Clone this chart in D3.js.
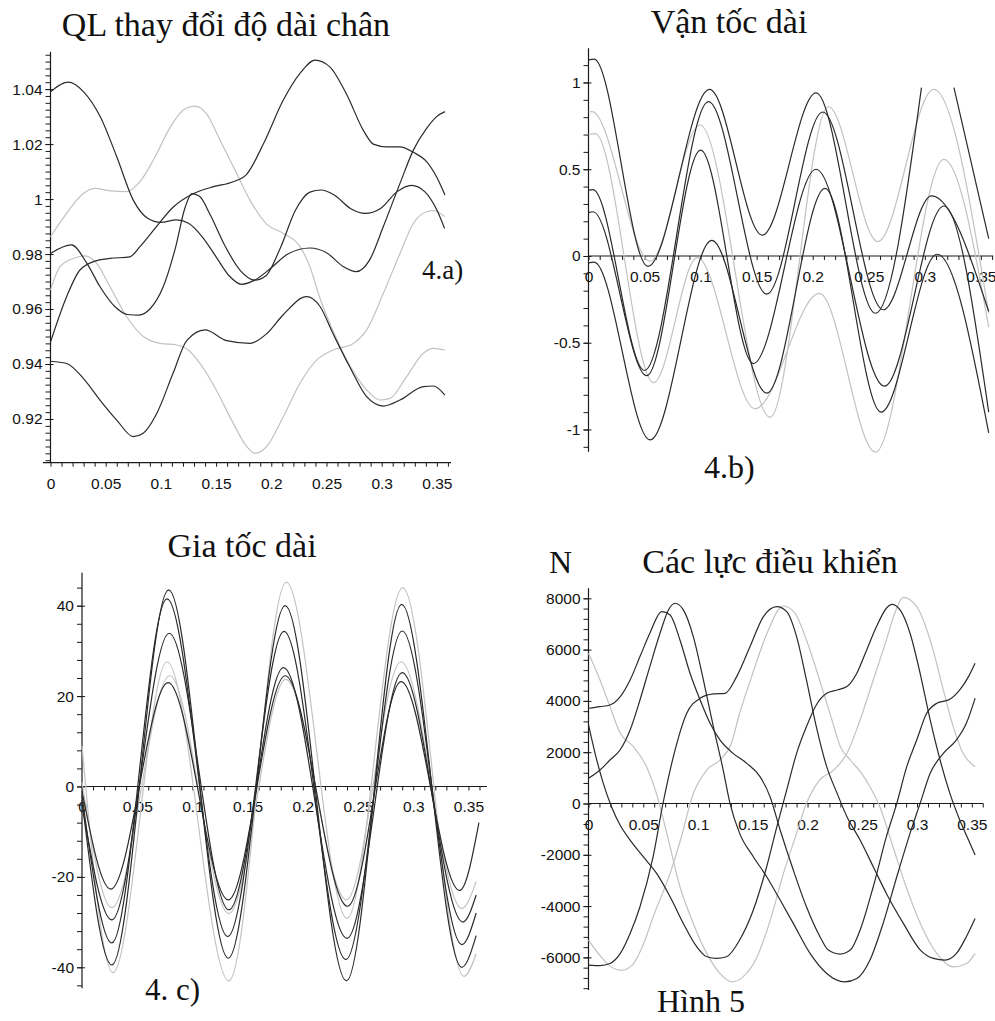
<!DOCTYPE html>
<html><head><meta charset="utf-8">
<script src="https://cdn.jsdelivr.net/npm/d3@7"></script>
<style>
html,body{margin:0;padding:0;background:#fff;}
svg{display:block;}
.ttl{font-family:"Liberation Serif","Times New Roman",serif;fill:#111;}
.tick text{font-family:"Liberation Sans",Arial,sans-serif;font-size:15.5px;fill:#111;}
</style></head><body>
<svg id="chart" width="995" height="1021"></svg>
<script>
// ---------------- DATA ----------------
const panelTitles = ["QL thay đổi độ dài chân", "Vận tốc dài", "Gia tốc dài", "Các lực điều khiển"];
const panelTags = ["4.a)", "4.b)", "4. c)", "Hình 5"];
const forceUnit = "N";
const xTickLabels = ["0","0.05","0.1","0.15","0.2","0.25","0.3","0.35"];
const lengthYLabels = ["0.92","0.94","0.96","0.98","1","1.02","1.04"];
const velocityYLabels = ["-1","-0.5","0","0.5","1"];
const accelYLabels = ["-40","-20","0","20","40"];
const forceYLabels = ["-6000","-4000","-2000","0","2000","4000","6000","8000"];

// 4.a) leg length change  [t, value]
const lengthSeriesDark = [
 [[0,1.039],[0.016,1.0425],[0.030,1.039],[0.045,1.030],[0.060,1.0154],[0.075,0.9996],[0.088,0.9930],[0.100,0.9915],[0.114,0.9924],[0.125,0.9912],[0.138,0.9860],[0.150,0.9790],[0.162,0.9720],[0.173,0.9690],[0.185,0.9705],[0.200,0.9750],[0.215,0.9800],[0.235,0.9822],[0.250,0.9805],[0.265,0.9755],[0.277,0.9736],[0.289,0.9778],[0.3015,0.990],[0.3166,1.0057],[0.3287,1.0178],[0.3407,1.0257],[0.3498,1.0300],[0.3573,1.0318]],
 [[0,0.9802],[0.019,0.9833],[0.033,0.9766],[0.045,0.9680],[0.058,0.9610],[0.070,0.9580],[0.080,0.9578],[0.090,0.9600],[0.102,0.9680],[0.113,0.9820],[0.122,0.9970],[0.128,1.0020],[0.135,1.0010],[0.145,0.9940],[0.158,0.9830],[0.172,0.9740],[0.185,0.9705],[0.195,0.9720],[0.208,0.9820],[0.222,0.9960],[0.235,1.0025],[0.245,1.0033],[0.257,1.0015],[0.272,0.9965],[0.285,0.9948],[0.299,0.9966],[0.314,1.0027],[0.327,1.0050],[0.339,1.0027],[0.350,0.9960],[0.357,0.9893]],
 [[0,0.948],[0.0146,0.9645],[0.0267,0.9742],[0.0418,0.9776],[0.0539,0.9784],[0.072,0.9790],[0.081,0.9827],[0.096,0.9900],[0.111,0.9970],[0.1296,1.0020],[0.1475,1.0045],[0.1656,1.0063],[0.1777,1.0090],[0.1928,1.0200],[0.2109,1.0360],[0.226,1.0457],[0.2396,1.0505],[0.2532,1.0480],[0.2683,1.0380],[0.2834,1.0250],[0.2924,1.0200],[0.3045,1.0190],[0.3166,1.0190],[0.3287,1.0170],[0.3407,1.0136],[0.3498,1.0080],[0.3573,1.0015]],
 [[0,0.9410],[0.0146,0.9402],[0.0297,0.9348],[0.0448,0.9269],[0.060,0.9196],[0.075,0.9136],[0.084,0.9148],[0.096,0.9218],[0.111,0.9366],[0.1234,0.9485],[0.140,0.9524],[0.1596,0.9485],[0.1807,0.9475],[0.1958,0.9510],[0.211,0.9580],[0.232,0.9645],[0.244,0.9610],[0.256,0.9510],[0.271,0.9390],[0.2864,0.9281],[0.3015,0.9247],[0.3166,0.9269],[0.3377,0.9318],[0.3468,0.9320],[0.3573,0.9287]]
];
const lengthSeriesLight = [
 [[0,0.9863],[0.0146,0.9948],[0.0297,1.0020],[0.0403,1.0039],[0.0539,1.0030],[0.069,1.0027],[0.081,1.0063],[0.0932,1.0142],[0.1083,1.0260],[0.1203,1.0324],[0.1309,1.0338],[0.1414,1.0310],[0.1535,1.0215],[0.1656,1.0118],[0.1807,0.9996],[0.1958,0.9909],[0.211,0.9875],[0.226,0.9827],[0.235,0.9754],[0.244,0.9640],[0.256,0.9520],[0.271,0.9395],[0.2864,0.9306],[0.2984,0.9269],[0.3075,0.9275],[0.3226,0.9354],[0.3377,0.9439],[0.3468,0.9457],[0.3573,0.9451]],
 [[0,0.9669],[0.0086,0.9754],[0.0207,0.9784],[0.0312,0.9793],[0.0418,0.9766],[0.0539,0.9681],[0.069,0.9572],[0.0841,0.9500],[0.0992,0.9475],[0.1143,0.9469],[0.1249,0.9451],[0.1354,0.9402],[0.1505,0.9303],[0.1656,0.9184],[0.1777,0.9100],[0.1852,0.9075],[0.1958,0.9100],[0.211,0.9209],[0.226,0.9330],[0.2411,0.9414],[0.2562,0.9451],[0.2743,0.9475],[0.2864,0.9524],[0.3015,0.9657],[0.3166,0.9802],[0.3287,0.9912],[0.3407,0.9954],[0.3468,0.9958],[0.3573,0.9936]]
];

// 4.b) leg velocity (null = gap in the trace)
const velocitySeriesDark = [
 [[0,1.13],[0.005,1.135],[0.053,-0.06],[0.108,0.96],[0.155,0.12],[0.203,0.94],[0.256,-0.33],[0.297,0.97],null,[0.326,0.97],[0.357,0.10]],
 [[0,0.38],[0.004,0.383],[0.050,-0.66],[0.107,0.89],[0.159,-0.22],[0.209,0.83],[0.263,-0.31],[0.306,0.346],[0.357,-0.32]],
 [[0,0.25],[0.004,0.255],[0.052,-0.69],[0.100,0.61],[0.147,-0.62],[0.203,0.50],[0.264,-0.75],[0.317,0.288],[0.357,-0.90]],
 [[0,-0.04],[0.005,-0.035],[0.055,-1.06],[0.110,0.09],[0.159,-0.79],[0.211,0.39],[0.261,-0.90],[0.311,0.01],[0.357,-1.02]]
];
const velocitySeriesLight = [
 [[0,0.83],[0.003,0.832],[0.055,-0.03],[0.0995,0.755],[0.162,-0.93],[0.214,0.86],[0.258,0.083],[0.308,0.96],[0.357,-0.33]],
 [[0,0.70],[0.006,0.705],[0.058,-0.73],[0.097,-0.01],[0.1485,-0.88],[0.206,-0.215],[0.256,-1.13],[0.317,0.557],[0.357,-0.41]]
];

// 4. c) leg acceleration
const accelSeriesDark = [
 [[0,-3],[0.027,-39.5],[0.0785,43.5],[0.1325,-38],[0.184,40],[0.2395,-43],[0.2895,40.3],[0.344,-40],[0.357,-33]],
 [[0,-2],[0.027,-34.6],[0.077,41.5],[0.132,-33.2],[0.183,34.3],[0.239,-38.3],[0.290,34.4],[0.344,-35],[0.357,-28]],
 [[0,-4],[0.027,-29.5],[0.079,33.9],[0.133,-27.3],[0.1825,26.3],[0.240,-33.6],[0.290,25.2],[0.345,-30],[0.357,-24]],
 [[0,-1],[0.026,-22.7],[0.078,23],[0.1325,-25.1],[0.184,24.5],[0.2405,-26.5],[0.289,23.2],[0.342,-23],[0.3595,-8]]
];
const accelSeriesLight = [
 [[0,9],[0.028,-41.2],[0.077,27.6],[0.133,-43],[0.185,45.2],[0.240,-29.2],[0.2905,44],[0.346,-42],[0.357,-37]],
 [[0,1],[0.027,-26.8],[0.0795,24.5],[0.133,-28.1],[0.1845,23.7],[0.2395,-25.1],[0.289,27.6],[0.344,-27],[0.357,-21]]
];

// Hình 5) control forces (N)
const forceSeriesDark = [
 [[0,-6300],[0.0105,-6320],[0.0196,-6240],[0.029,-5844],[0.038,-5065],[0.047,-4025],[0.059,-2075],[0.068,0],[0.0775,1826],[0.0897,3517],[0.1019,4102],[0.114,4271],[0.1247,4297],[0.1353,4947],[0.1475,6117],[0.1597,7287],[0.172,7677],[0.181,7482],[0.19,6507],[0.199,4817],[0.208,2996],[0.2175,1436],[0.227,396],[0.236,-514],[0.248,-1424],[0.26,-2465],[0.272,-3505],[0.2875,-4675],[0.303,-5714],[0.315,-6039],[0.3255,-6104],[0.336,-5844],[0.345,-5194],[0.353,-4480]],
 [[0,3712],[0.0105,3777],[0.0196,3842],[0.029,4167],[0.038,4817],[0.047,5727],[0.056,6637],[0.0669,7482],[0.0745,7352],[0.0835,6377],[0.0927,5077],[0.1019,4037],[0.111,3127],[0.12,2477],[0.132,1956],[0.1445,1566],[0.1566,1046],[0.1658,266],[0.175,-1034],[0.187,-2595],[0.199,-4025],[0.2114,-5194],[0.219,-5714],[0.2297,-5870],[0.239,-5714],[0.248,-4935],[0.26,-3245],[0.272,-1294],[0.2815,6],[0.2906,1436],[0.2997,2477],[0.3088,3517],[0.318,3907],[0.33,4063],[0.339,4427],[0.347,4947],[0.353,5467]],
 [[0,981],[0.0105,1306],[0.0196,1696],[0.0288,2086],[0.038,2866],[0.047,4037],[0.056,5337],[0.0653,6637],[0.073,7547],[0.079,7807],[0.0866,7547],[0.0957,6507],[0.1049,4817],[0.114,2996],[0.123,1306],[0.1292,6],[0.138,-1164],[0.1505,-2075],[0.1627,-2855],[0.175,-3765],[0.187,-4675],[0.2023,-5844],[0.2175,-6625],[0.234,-6955],[0.245,-6825],[0.257,-6104],[0.269,-4675],[0.2815,-2855],[0.2936,-1164],[0.3028,6],[0.312,1176],[0.324,1956],[0.336,2477],[0.345,3127],[0.353,4102]],
 [[0,3061],[0.006,1956],[0.0135,786],[0.021,-124],[0.0288,-839],[0.038,-1424],[0.05,-2075],[0.0622,-2725],[0.0745,-3635],[0.0866,-4675],[0.0988,-5584],[0.108,-5974],[0.117,-6039],[0.126,-5974],[0.138,-5324],[0.1505,-4155],[0.1627,-2465],[0.172,-904],[0.181,526],[0.19,1956],[0.199,2996],[0.208,3842],[0.2175,4297],[0.227,4427],[0.236,4557],[0.245,5077],[0.254,5987],[0.263,6897],[0.272,7612],[0.277,7767],[0.2845,7547],[0.2936,6637],[0.3028,5077],[0.312,3257],[0.321,1696],[0.33,396],[0.339,-644],[0.347,-1424],[0.353,-2010]]
];
const forceSeriesLight = [
 [[0,-5324],[0.01,-5900],[0.02,-6350],[0.030,-6500],[0.040,-6300],[0.05,-5500],[0.059,-4420],[0.0745,-2725],[0.084,-1424],[0.0957,390],[0.108,1306],[0.12,1700],[0.13,2300],[0.138,3517],[0.15,5077],[0.163,6637],[0.178,7700],[0.188,7450],[0.199,6377],[0.211,4817],[0.222,3300],[0.23,2216],[0.239,1696],[0.248,1250],[0.257,656],[0.266,-124],[0.278,-1684],[0.29,-3245],[0.303,-4675],[0.318,-5844],[0.333,-6370],[0.345,-6250],[0.353,-5844]],
 [[0,5857],[0.0105,4817],[0.0196,3777],[0.029,2737],[0.041,2216],[0.053,1436],[0.062,396],[0.0715,-1164],[0.0835,-3245],[0.0957,-4675],[0.108,-5844],[0.12,-6625],[0.131,-6955],[0.141,-6760],[0.154,-5974],[0.166,-4545],[0.178,-2725],[0.19,-1164],[0.199,6],[0.211,916],[0.224,1306],[0.236,1956],[0.248,3257],[0.26,4817],[0.272,6377],[0.279,7350],[0.2875,8040],[0.2997,7677],[0.312,6377],[0.324,4427],[0.333,2996],[0.342,1956],[0.353,1436]]
];

// ---------------- DRAWING ----------------
const svg = d3.select("#chart");
const DARK = "#2a2a2a", LIGHT = "#c2c2c2", AXIS = "#1a1a1a";

function drawPanel(p) {
  const x = d3.scaleLinear().domain(p.xDomain).range(p.xRange);
  const y = d3.scaleLinear().domain(p.yDomain).range(p.yRange);
  const g = svg.append("g");
  const axisY = p.xAxisAtBottom ? p.yRange[0] : y(0);
  const x0 = x(0);

  const step = (s, lo, hi) => d3.range(Math.ceil(lo / s - 1e-9), Math.floor(hi / s + 1e-9) + 1).map(i => +(i * s).toFixed(6));

  // x axis
  const xMinor = step(0.01, 0, p.xDomain[1]);
  const xMajor = xTickLabels.map(Number);
  g.append("line").attr("x1", p.xLineStart).attr("x2", p.xRange[1]).attr("y1", axisY).attr("y2", axisY)
    .attr("stroke", AXIS).attr("stroke-width", 1.2);
  const gx = g.append("g").attr("transform", `translate(0,${axisY})`)
    .call(d3.axisBottom(x).tickValues(xMinor).tickSize(4).tickFormat(""));
  gx.select(".domain").remove();
  gx.selectAll("line").attr("stroke", AXIS);
  const gxl = g.append("g").attr("transform", `translate(0,${axisY})`)
    .call(d3.axisBottom(x).tickValues(xMajor).tickSize(0).tickPadding(15).tickFormat((d, i) => xTickLabels[i]));
  gxl.select(".domain").remove();

  // y axis
  const yMajor = p.yLabels.map(Number);
  const yMinor = step(p.yMinorStep, p.yDomain[0], p.yDomain[1]);
  g.append("line").attr("x1", x0).attr("x2", x0).attr("y1", p.yRange[0]).attr("y2", p.yRange[1])
    .attr("stroke", AXIS).attr("stroke-width", 1.2);
  const gy = g.append("g").attr("transform", `translate(${x0},0)`)
    .call(d3.axisLeft(y).tickValues(yMinor).tickSize(5).tickFormat(""));
  gy.select(".domain").remove();
  gy.selectAll("line").attr("stroke", AXIS);
  const gyl = g.append("g").attr("transform", `translate(${x0},0)`)
    .call(d3.axisLeft(y).tickValues(yMajor).tickSize(5).tickPadding(3).tickFormat((d, i) => p.yLabels[i]));
  gyl.select(".domain").remove();
  gyl.selectAll("line").attr("stroke", AXIS);
  const gyr = g.append("g").attr("transform", `translate(${x0},0)`)
    .call(d3.axisRight(y).tickValues(yMajor).tickSize(3).tickFormat(""));
  gyr.select(".domain").remove();
  gyr.selectAll("line").attr("stroke", AXIS);

  // curves
  const line = d3.line().defined(d => d !== null)
    .x(d => x(d[0])).y(d => y(d[1])).curve(d3.curveMonotoneX);
  g.selectAll("path.light").data(p.light).join("path").attr("class", "light")
    .attr("d", line).attr("fill", "none").attr("stroke", LIGHT).attr("stroke-width", 1.2);
  g.selectAll("path.dark").data(p.dark).join("path").attr("class", "dark")
    .attr("d", line).attr("fill", "none").attr("stroke", DARK).attr("stroke-width", 1.2);

  // title and tag
  g.append("text").attr("class", "ttl").attr("x", p.titlePos[0]).attr("y", p.titlePos[1])
    .attr("text-anchor", "middle").attr("font-size", 34).text(p.title);
  g.append("text").attr("class", "ttl").attr("x", p.tagPos[0]).attr("y", p.tagPos[1])
    .attr("font-size", p.tagSize).text(p.tag);
}

drawPanel({
  title: panelTitles[0], tag: panelTags[0], titlePos: [226, 36], tagPos: [422, 279], tagSize: 27,
  dark: lengthSeriesDark, light: lengthSeriesLight,
  xDomain: [0, 0.3628], xRange: [50.5, 451], xLineStart: 43, xAxisAtBottom: true,
  yDomain: [0.9041, 1.0536], yRange: [462.7, 51.7], yLabels: lengthYLabels, yMinorStep: 0.0025
});
drawPanel({
  title: panelTitles[1], tag: panelTags[1], titlePos: [729, 33], tagPos: [704, 478], tagSize: 32,
  dark: velocitySeriesDark, light: velocitySeriesLight,
  xDomain: [0, 0.361], xRange: [588.5, 993.2], xLineStart: 588.5, xAxisAtBottom: false,
  yDomain: [-1.128, 1.197], yRange: [451.7, 48.3], yLabels: velocityYLabels, yMinorStep: 0.1
});
drawPanel({
  title: panelTitles[2], tag: panelTags[2], titlePos: [242, 557], tagPos: [145, 1000], tagSize: 31,
  dark: accelSeriesDark, light: accelSeriesLight,
  xDomain: [0, 0.3668], xRange: [82, 487], xLineStart: 82, xAxisAtBottom: false,
  yDomain: [-44.65, 47.3], yRange: [988.3, 572.7], yLabels: accelYLabels, yMinorStep: 4
});
drawPanel({
  title: panelTitles[3], tag: panelTags[3], titlePos: [770, 573], tagPos: [657, 1012], tagSize: 32,
  dark: forceSeriesDark, light: forceSeriesLight,
  xDomain: [0, 0.3604], xRange: [588.5, 983.2], xLineStart: 588.5, xAxisAtBottom: false,
  yDomain: [-7271, 8390], yRange: [990, 588.3], yLabels: forceYLabels, yMinorStep: 400
});
svg.append("text").attr("class", "ttl").attr("x", 549).attr("y", 573).attr("font-size", 32).text(forceUnit);
</script>
</body></html>
